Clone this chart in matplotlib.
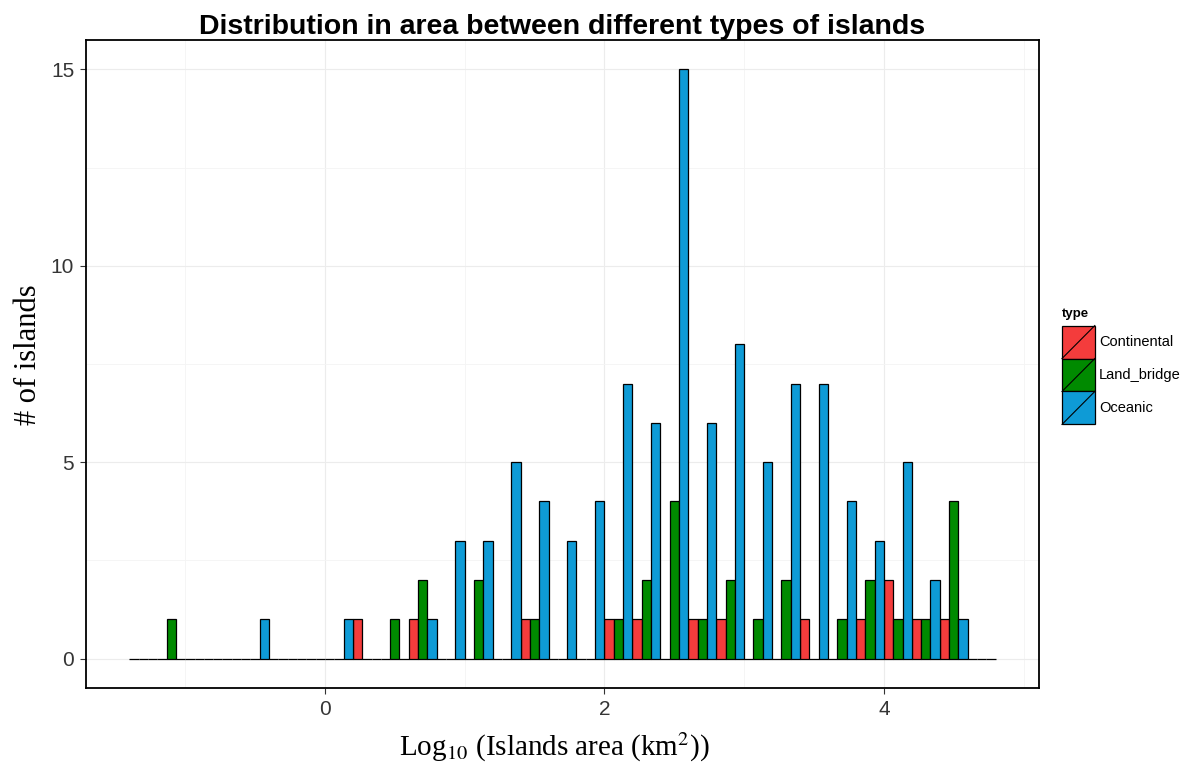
import numpy as np
import matplotlib
matplotlib.use("Agg")
import matplotlib.pyplot as plt
from matplotlib.patches import Rectangle, Patch
from matplotlib.lines import Line2D
from matplotlib.legend_handler import HandlerBase

# histogram bins: log10 island area, width 0.2, first bin starts at -1.4
bin_width = 0.2
bin_left = np.round(np.arange(-1.4, 4.8 - 1e-9, bin_width), 2)

# counts per bin
continental = [0, 0, 0, 0, 0, 0, 0, 0, 1, 0, 1, 0, 0, 0, 1, 0,
               0, 1, 1, 0, 1, 1, 0, 0, 1, 0, 1, 2, 1, 1, 0]
land_bridge = [0, 1, 0, 0, 0, 0, 0, 0, 0, 1, 2, 0, 2, 0, 1, 0,
               0, 1, 2, 4, 1, 2, 1, 2, 0, 1, 2, 1, 1, 4, 0]
oceanic = [0, 0, 0, 0, 1, 0, 0, 1, 0, 0, 1, 3, 3, 5, 4, 3,
           4, 7, 6, 15, 6, 8, 5, 7, 7, 4, 3, 5, 2, 1, 0]

types = ["Continental", "Land_bridge", "Oceanic"]
counts = [continental, land_bridge, oceanic]
colours = ["#F43C3C", "#008A00", "#0E9BD6"]

plt.rcParams["mathtext.fontset"] = "stix"

fig = plt.figure(figsize=(11.93, 7.66), dpi=100)
ax = fig.add_axes([86 / 1193, 78 / 766, 953 / 1193, 648 / 766])

# dodge: three sub-bars per bin
sub = bin_width / 3
for i, (name, c, col) in enumerate(zip(types, counts, colours)):
    ax.bar(bin_left + i * sub, c, width=sub, align="edge", color=col,
           edgecolor="black", linewidth=0.9, zorder=3, label=name)

# ggplot style expansion
x0, x1 = bin_left[0], bin_left[-1] + bin_width
ax.set_xlim(x0 - 0.05 * (x1 - x0), x1 + 0.05 * (x1 - x0))
ax.set_ylim(-0.75, 15.75)

ax.set_xticks([0, 2, 4])
ax.set_yticks([0, 5, 10, 15])
ax.set_xticks([-1, 1, 3, 5], minor=True)
ax.set_yticks([2.5, 7.5, 12.5], minor=True)
ax.grid(which="major", color="#ececec", linewidth=0.8, zorder=0)
ax.grid(which="minor", color="#f4f4f4", linewidth=0.6, zorder=0)
ax.tick_params(which="minor", length=0)
ax.tick_params(which="major", length=4.5, width=0.8, color="#333333",
               labelsize=15, labelcolor="#353535", pad=4)
for lab in ax.get_xticklabels() + ax.get_yticklabels():
    lab.set_family("Liberation Sans")
for sp in ax.spines.values():
    sp.set_color("black")
    sp.set_linewidth(1.3)

ax.set_title("Distribution in area between different types of islands",
             family="Liberation Sans", fontweight="bold", fontsize=20.5, pad=3)
ax.set_xlabel(r"Log$_{\mathrm{10}}$ (Islands area (km$^{\mathrm{2}}$))",
              family="Liberation Serif", fontsize=21)
ax.xaxis.set_label_coords(0.491, -0.066)
ax.set_ylabel("# of islands", family="Liberation Serif", fontsize=22)
ax.yaxis.set_label_coords(-0.045, 0.515)


class DiagKey(HandlerBase):
    def create_artists(self, legend, orig_handle, xdescent, ydescent,
                       width, height, fontsize, trans):
        r = Rectangle((-xdescent, -ydescent), width, height,
                      facecolor=orig_handle.get_facecolor(),
                      edgecolor="black", linewidth=0.9, transform=trans)
        d = Line2D([-xdescent, -xdescent + width],
                   [-ydescent, -ydescent + height],
                   color="black", linewidth=0.8, transform=trans)
        return [r, d]


handles = [Patch(facecolor=col, label=name) for name, col in zip(types, colours)]
leg = fig.legend(handles=handles, loc="upper left",
                 bbox_to_anchor=(1062 / 1193, 1 - 308 / 766),
                 handler_map={Patch: DiagKey()}, frameon=False,
                 prop={"family": "Liberation Sans", "size": 10.5},
                 title="type", title_fontproperties={"family": "Liberation Sans",
                                                     "weight": "bold", "size": 9.5},
                 handlelength=2.25, handleheight=3.1, labelspacing=0,
                 handletextpad=0.3, borderpad=0, borderaxespad=0)
leg._legend_box.align = "left"
leg._legend_box.sep = 4

fig.savefig("out.png", dpi=100)
